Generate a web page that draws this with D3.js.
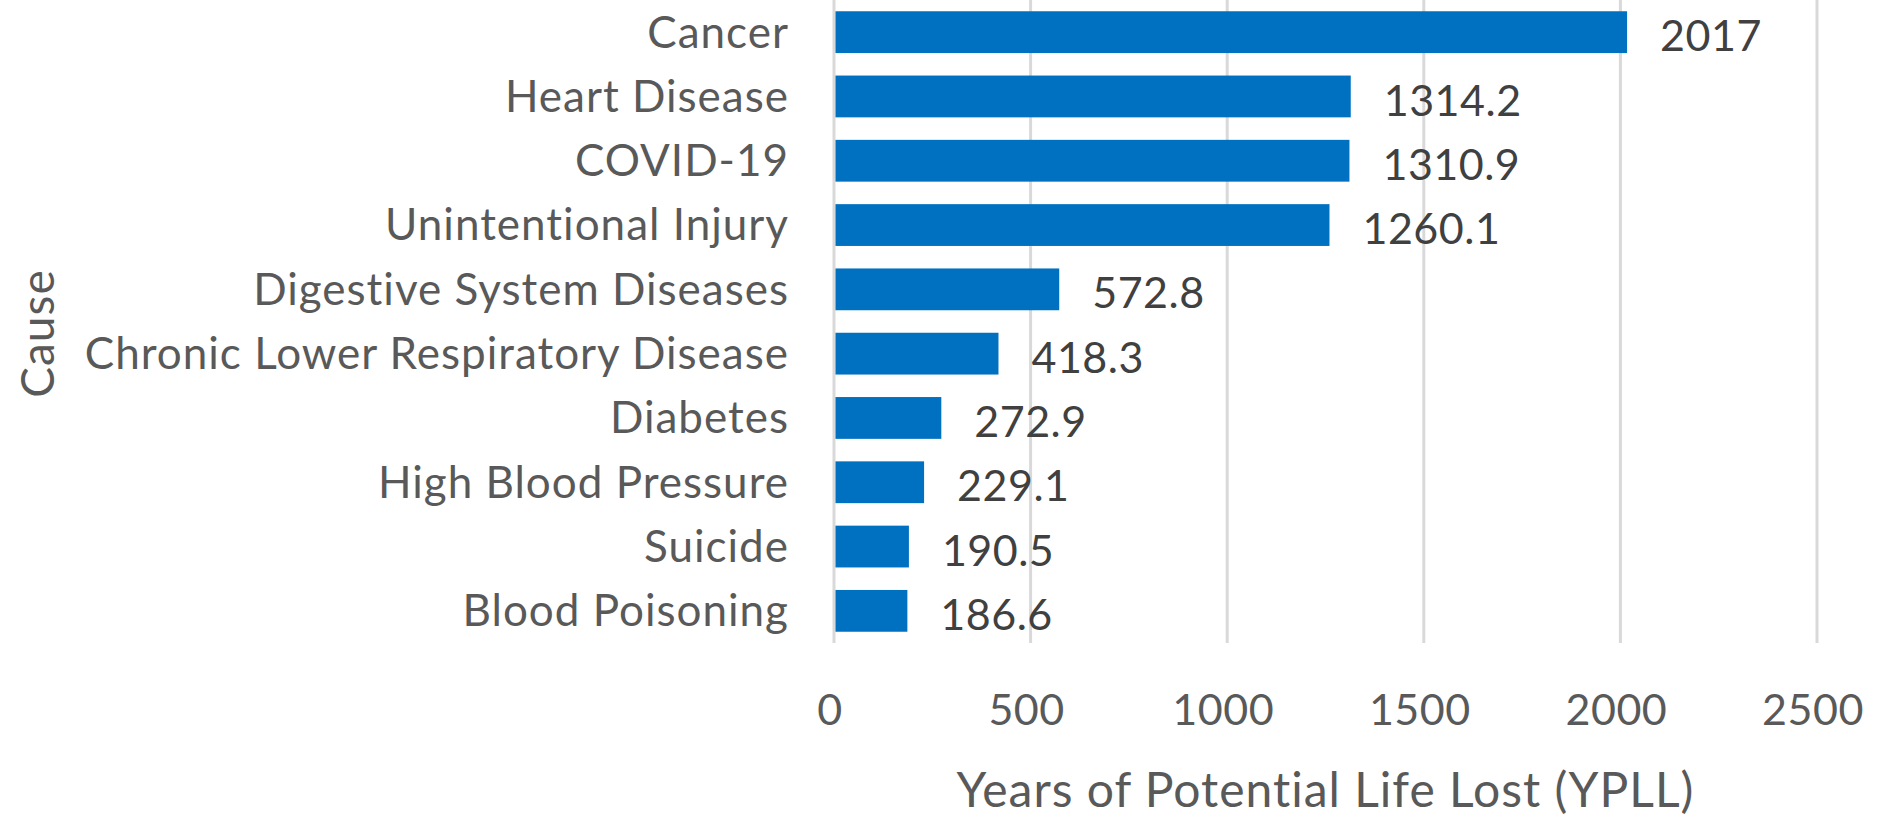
<!DOCTYPE html>
<html>
<head>
<meta charset="utf-8">
<script src="https://cdn.jsdelivr.net/npm/d3@7"></script>
<style>
  html, body { margin: 0; padding: 0; background: #fff; }
  svg { display: block; font-family: Lato, "Open Sans", sans-serif; }
</style>
</head>
<body>
<div id="chart"></div>
<script>
const causes = ['Cancer', 'Heart Disease', 'COVID-19', 'Unintentional Injury', 'Digestive System Diseases',
  'Chronic Lower Respiratory Disease', 'Diabetes', 'High Blood Pressure', 'Suicide', 'Blood Poisoning'];
const ypll = [2017, 1314.2, 1310.9, 1260.1, 572.8, 418.3, 272.9, 229.1, 190.5, 186.6];
const xTicks = [0, 500, 1000, 1500, 2000, 2500];

const width = 1888, height = 817
  , margin = {top: 0, right: 71, bottom: 174, left: 834}
  , cw = width - margin.left - margin.right
  , ch = height - margin.top - margin.bottom;

const data = causes.map((c, i) => ({cause: c, value: ypll[i]}));

const svg = d3.select('#chart').append('svg')
  .attr('width', width).attr('height', height);

const x = d3.scaleLinear().domain([0, 2500]).range([0, cw])
  , y = d3.scaleBand().domain(causes).range([0, ch]).paddingInner(0.35).paddingOuter(0.175);

const g = svg.append('g').attr('transform', `translate(${margin.left},${margin.top})`);

// gridlines
g.selectAll('line.grid').data(xTicks).join('line').attr('class', 'grid')
  .attr('x1', d => x(d)).attr('x2', d => x(d))
  .attr('y1', 0).attr('y2', ch)
  .attr('stroke', '#d9d9d9').attr('stroke-width', 3);

// bars
g.selectAll('rect.bar').data(data).join('rect').attr('class', 'bar')
  .attr('x', x(0) + 1.5)
  .attr('y', d => y(d.cause))
  .attr('width', d => x(d.value) - x(0) - 1.5)
  .attr('height', y.bandwidth())
  .attr('fill', '#0070c0');

// value labels
g.selectAll('text.val').data(data).join('text').attr('class', 'val')
  .attr('x', d => x(d.value) + 33)
  .attr('y', d => y(d.cause) + y.bandwidth() / 2 + 4)
  .attr('dy', '0.35em')
  .attr('fill', '#404040').attr('font-size', 43).attr('letter-spacing', 0.5)
  .text(d => d.value);

// category labels
g.selectAll('text.cat').data(causes).join('text').attr('class', 'cat')
  .attr('x', -45)
  .attr('y', d => y(d) + y.bandwidth() / 2)
  .attr('dy', '0.35em')
  .attr('text-anchor', 'end')
  .attr('fill', '#595959').attr('font-size', 44).attr('letter-spacing', 1)
  .text(d => d);

// x tick labels
g.selectAll('text.tick').data(xTicks).join('text').attr('class', 'tick')
  .attr('x', d => x(d) - 4)
  .attr('y', 710 - margin.top)
  .attr('dy', '0.35em')
  .attr('text-anchor', 'middle')
  .attr('fill', '#595959').attr('font-size', 43).attr('letter-spacing', 0.5)
  .text(d => d);

// axis titles
svg.append('text')
  .attr('x', margin.left + cw / 2).attr('y', 790)
  .attr('dy', '0.35em').attr('text-anchor', 'middle')
  .attr('fill', '#595959').attr('font-size', 48).attr('letter-spacing', 1)
  .text('Years of Potential Life Lost (YPLL)');

svg.append('text')
  .attr('transform', `translate(38, ${margin.top + ch / 2 + 12}) rotate(-90)`)
  .attr('dy', '0.35em').attr('text-anchor', 'middle')
  .attr('fill', '#595959').attr('font-size', 46).attr('letter-spacing', 1)
  .text('Cause');
</script>
</body>
</html>
